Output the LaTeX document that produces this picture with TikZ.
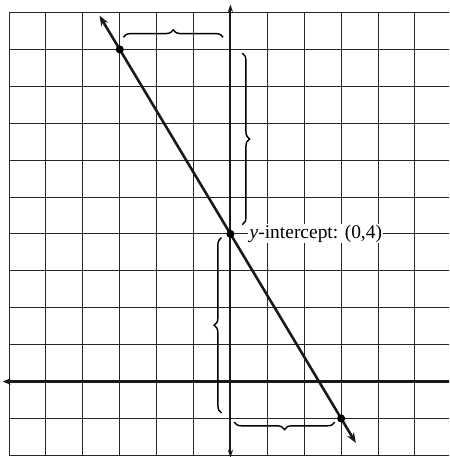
\documentclass[tikz,border=0pt]{standalone}
\usepackage{fontspec}
\setmainfont{Liberation Serif}
\usetikzlibrary{arrows.meta,decorations.pathreplacing}
\begin{document}
\begin{tikzpicture}[
  gridline/.style={line width=0.8pt,black!85},
  axisline/.style={line width=1.6pt,black!90},
  mainline/.style={line width=2pt,black!90},
  dot/.style={circle,fill=black,inner sep=0pt,minimum size=0.22cm},
  bracestyle/.style={line width=1.1pt,decorate,decoration={brace,amplitude=0.2cm}},
  lbl/.style={fill=white,inner xsep=1pt,inner ysep=0.5pt,font=\fontsize{15}{17}\selectfont}
]
\useasboundingbox (-6.245,-2.045) rectangle (5.925,10.34);
\begin{scope}
\clip (-6.245,-2.045) rectangle (5.925,10.34);
% grid
\foreach \x in {-6,...,5} \draw[gridline] (\x,-2) -- (\x,10);
\foreach \y in {-2,...,10} \draw[gridline] (-6,\y) -- (5.925,\y);
% axes
\coordinate (ytop) at (0,10.22);
\coordinate (ybot) at (0,-2.06);
\coordinate (xleft) at (-6.17,0);
\coordinate (xright) at (6.15,0);
\draw[axisline,{Stealth[length=6pt,width=4pt]}-{Stealth[length=6pt,width=4pt]}] (ybot) -- (ytop);
\draw[line width=2pt,black!90,{Stealth[length=6pt,width=5pt]}-{Stealth[length=6pt,width=5pt]}] (xleft) -- (xright);
\end{scope}
% label
\node[lbl,anchor=west] (lab) at (0.48,4) {\textit{y}-intercept: (0,4)};
% line
\coordinate (la) at (-3.55,9.917);
\coordinate (lb) at (3.4,-1.667);
\draw[mainline,{Stealth[length=8pt,width=6pt]}-{Stealth[length=8pt,width=6pt]}] (la) -- (lb);
% points
\node[dot] (p1) at (-3,9) {};
\node[dot] (p0) at (0,4) {};
\node[dot] (p2) at (3,-1) {};
% braces
\coordinate (t1) at (-2.9,9.33);
\coordinate (t2) at (-0.2,9.33);
\draw[bracestyle] (t1) -- (t2);
\coordinate (r1) at (0.32,8.9);
\coordinate (r2) at (0.32,4.25);
\draw[bracestyle] (r1) -- (r2);
\coordinate (l1) at (-0.24,-0.85);
\coordinate (l2) at (-0.24,3.9);
\draw[bracestyle] (l1) -- (l2);
\coordinate (b1) at (2.83,-1.1);
\coordinate (b2) at (0.1,-1.1);
\draw[bracestyle] (b1) -- (b2);
\end{tikzpicture}
\end{document}
